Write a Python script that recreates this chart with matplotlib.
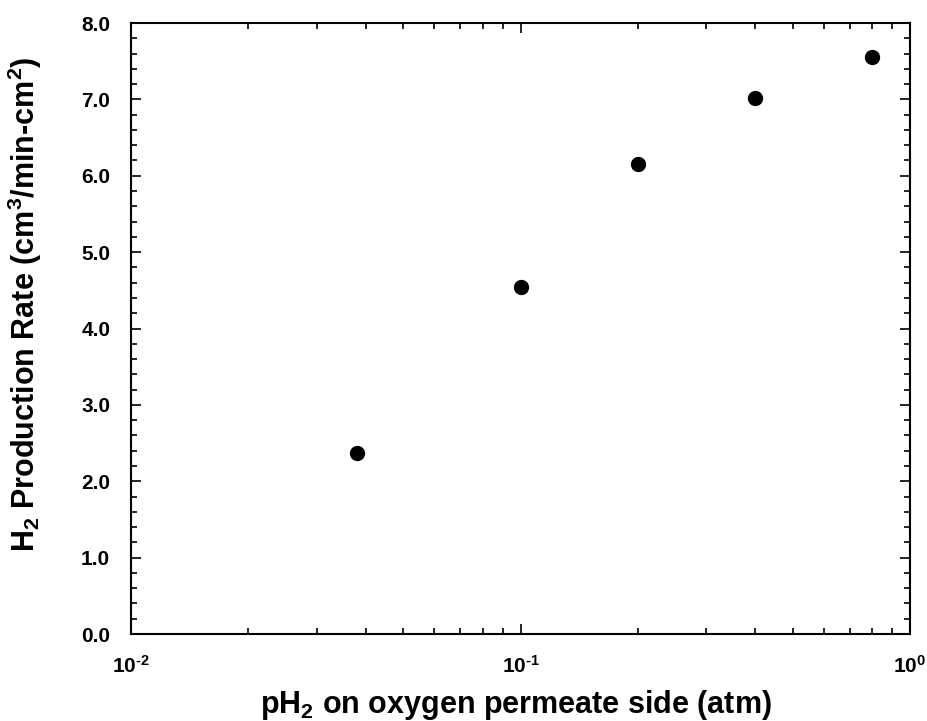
import matplotlib
matplotlib.use("Agg")
import matplotlib.pyplot as plt
from matplotlib.ticker import MultipleLocator, LogLocator, NullFormatter, FormatStrFormatter, FuncFormatter
import numpy as np

# pH2 (atm) and H2 production rate (cm3/min-cm2)
ph2 = [0.038, 0.1, 0.2, 0.4, 0.8]
rate = [2.37, 4.54, 6.15, 7.02, 7.56]

plt.rcParams['font.family'] = 'Liberation Sans'
plt.rcParams['font.weight'] = 'bold'
plt.rcParams['axes.labelweight'] = 'bold'
plt.rcParams['mathtext.fontset'] = 'custom'
plt.rcParams['mathtext.rm'] = 'Liberation Sans:bold'
plt.rcParams['mathtext.bf'] = 'Liberation Sans:bold'
plt.rcParams['mathtext.default'] = 'bf'

fig = plt.figure(figsize=(9.27, 7.21), dpi=100)
ax = fig.add_axes([131/927, 1 - 634/721, 779/927, 611/721])

ax.plot(ph2, rate, 'o', color='black', markersize=10)

ax.set_xscale('log')
ax.set_xlim(0.01, 1)
ax.set_ylim(0, 8)

def pow10(v, pos):
    e = int(round(np.log10(v)))
    if e < 0:
        return r'$10^{\text{-}%d}$' % (-e)
    return r'$10^{%d}$' % e

ax.yaxis.set_major_locator(MultipleLocator(1))
ax.yaxis.set_minor_locator(MultipleLocator(0.2))
ax.yaxis.set_major_formatter(FormatStrFormatter('%.1f'))
ax.xaxis.set_major_formatter(FuncFormatter(pow10))
ax.xaxis.set_minor_locator(LogLocator(base=10, subs=range(2, 10)))
ax.xaxis.set_minor_formatter(NullFormatter())

ax.tick_params(which='both', direction='in', top=True, right=True, width=1.2, labelsize=15)
ax.tick_params(which='major', length=7)
ax.tick_params(which='minor', length=4)
ax.tick_params(axis='x', which='major', pad=15)
ax.tick_params(axis='y', which='major', pad=15)
for s in ax.spines.values():
    s.set_linewidth(1.5)

ax.set_xlabel('pH$_2$ on oxygen permeate side (atm)', fontsize=22, va='baseline')
ax.set_ylabel('H$_2$ Production Rate (cm$^3$/min-cm$^2$)', fontsize=22, va='baseline')
ax.xaxis.set_label_coords(0.494, -0.129)
ax.yaxis.set_label_coords(-0.123, 0.54)

fig.savefig('out.png', dpi=100)
